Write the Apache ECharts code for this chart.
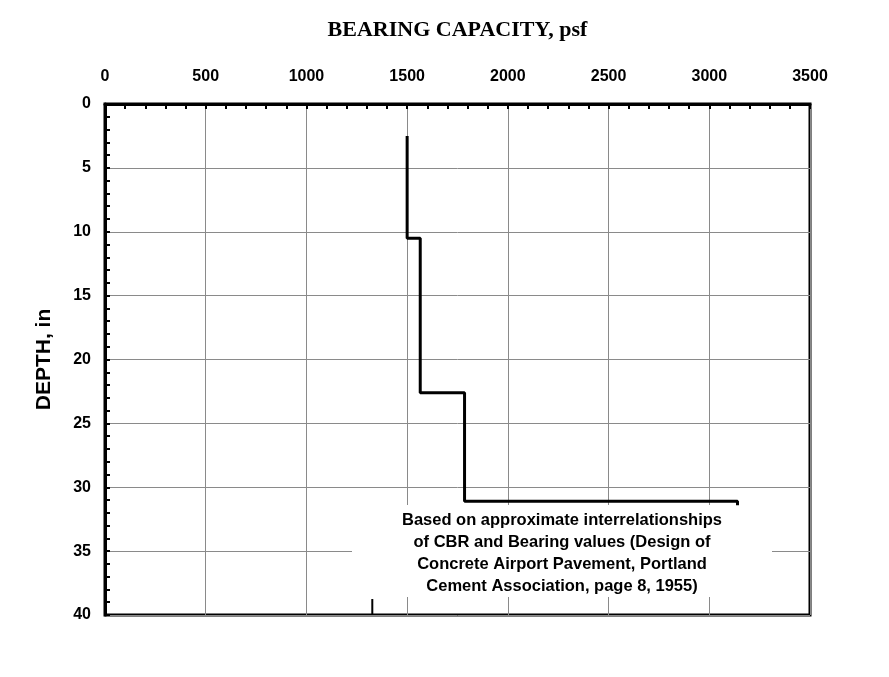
<!DOCTYPE html>
<html>
<head>
<meta charset="utf-8">
<script src="https://cdn.jsdelivr.net/npm/echarts@6/dist/echarts.min.js"></script>
<style>
  html, body { margin: 0; padding: 0; background: #fff; }
  #chart { width: 889px; height: 677px; }
</style>
</head>
<body>
<div id="chart"></div>
<script>
// step profile: bearing capacity (psf) vs depth (in)
const stepBearing = [1500, 1500, 1565, 1565, 1785, 1785, 3140, 3140];
const stepDepth = [2.5, 10.5, 10.5, 22.6, 22.6, 31.1, 31.1, 31.4];
// small mark near bottom
const markBearing = [1327, 1327];
const markDepth = [38.75, 40];
const noteLines = [
  'Based on approximate interrelationships',
  'of CBR and Bearing values (Design of',
  'Concrete Airport Pavement, Portland',
  'Cement Association, page 8, 1955)'
];

const chart = echarts.init(document.getElementById('chart'));
const labelFont = {fontFamily: 'Liberation Sans, Arial', fontWeight: 'bold', fontSize: 16, color: '#000'};

chart.setOption({
  animation: false,
  grid: {
    left: 105, right: 79, top: 104, bottom: 62,
    show: true, borderColor: '#000', borderWidth: 3
  },
  xAxis: {
    type: 'value',
    position: 'top',
    min: 0, max: 3500, interval: 500,
    name: 'BEARING CAPACITY, psf',
    nameLocation: 'middle',
    nameGap: 63,
    nameTextStyle: {fontFamily: 'Liberation Serif, Times New Roman', fontWeight: 'bold', fontSize: 22, color: '#000'},
    axisLine: {show: true, lineStyle: {color: '#000', width: 3}},
    axisTick: {show: true, inside: true, length: 5, lineStyle: {color: '#000', width: 2}},
    minorTick: {show: true, splitNumber: 5, length: 5, lineStyle: {color: '#000', width: 2}},
    axisLabel: Object.assign({margin: 19, formatter: v => String(v)}, labelFont),
    splitLine: {show: true, lineStyle: {color: '#8a8a8a', width: 1}}
  },
  yAxis: {
    type: 'value',
    inverse: true,
    min: 0, max: 40, interval: 5,
    name: 'DEPTH, in',
    nameLocation: 'middle',
    nameGap: 50,
    nameTextStyle: {fontFamily: 'Liberation Sans, Arial', fontWeight: 'bold', fontSize: 21, color: '#000'},
    axisLine: {show: true, lineStyle: {color: '#000', width: 3}},
    axisTick: {show: true, inside: true, length: 5, lineStyle: {color: '#000', width: 2}},
    minorTick: {show: true, splitNumber: 5, length: 5, lineStyle: {color: '#000', width: 2}},
    axisLabel: Object.assign({margin: 14, formatter: v => String(v)}, labelFont),
    splitLine: {show: true, lineStyle: {color: '#8a8a8a', width: 1}}
  },
  graphic: [
    {
      type: 'rect', z: 1,
      shape: {x: 352, y: 505, width: 420, height: 92},
      style: {fill: '#fff'}
    },
    {
      type: 'text', z: 2,
      x: 562, y: 509,
      style: {
        text: noteLines.join('\n'),
        fontFamily: 'Liberation Sans, Arial',
        fontWeight: 'bold',
        fontSize: 16.5,
        lineHeight: 22,
        align: 'center',
        verticalAlign: 'top',
        fill: '#000'
      }
    }
  ],
  series: [
    {
      type: 'line',
      data: stepBearing.map((b, i) => [b, stepDepth[i]]),
      symbol: 'none',
      z: 5,
      lineStyle: {color: '#000', width: 3}
    },
    {
      type: 'line',
      data: markBearing.map((b, i) => [b, markDepth[i]]),
      symbol: 'none',
      z: 5,
      lineStyle: {color: '#000', width: 2}
    }
  ]
});
</script>
</body>
</html>
